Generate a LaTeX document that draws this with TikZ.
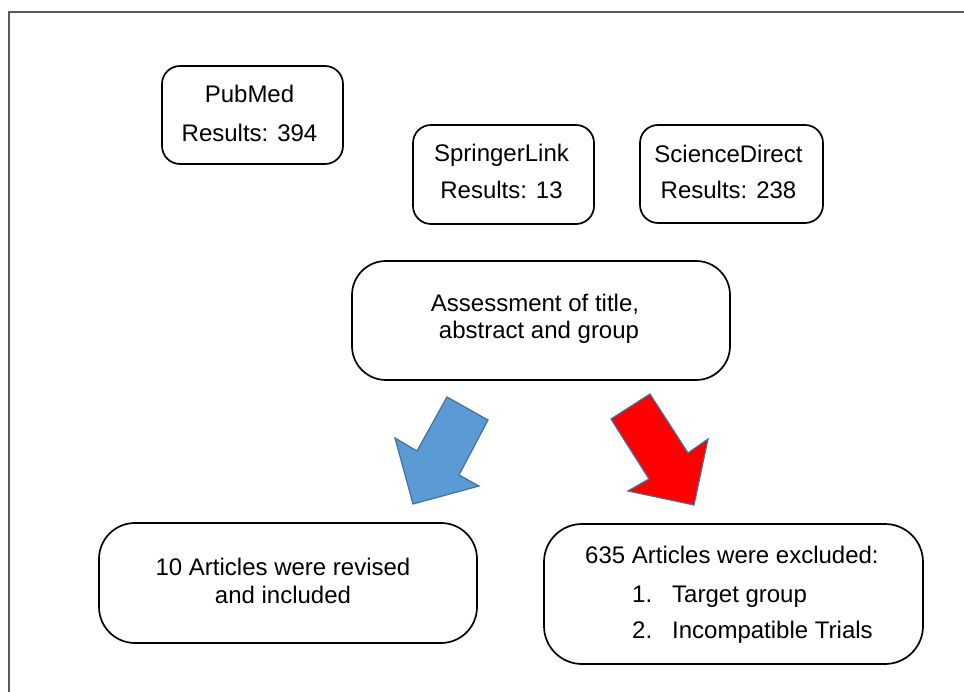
\documentclass[tikz,border=0pt]{standalone}
\usepackage{fontspec}
\setmainfont{Liberation Sans}
\definecolor{arrblue}{RGB}{91,155,213}
\definecolor{arrline}{RGB}{65,113,156}
\definecolor{framegray}{RGB}{90,90,90}
\begin{document}
\begin{tikzpicture}[x=1pt,y=-1pt,
  box/.style={draw=black, line width=1.7pt, fill=white, inner sep=0pt},
  lbl/.style={inner sep=0pt, font=\fontsize{24}{28}\selectfont},
  blockarrow/.style={draw=arrline, line width=1.2pt, line join=miter}]
\useasboundingbox (0,0) rectangle (964,692);
\draw[framegray, line width=1.5pt] (9,692) -- (9,12) -- (964,12);

% source boxes
\node[box, minimum width=181pt, minimum height=98pt, rounded corners=18pt] (pubmed) at (252.5,115) {};
\node[lbl, anchor=base] (pubmedA) at (249.5,103) {PubMed};
\node[lbl, anchor=base] (pubmedB) at (249.5,142) {Results: 394};

\node[box, minimum width=181pt, minimum height=99pt, rounded corners=18pt] (springer) at (503.5,174.5) {};
\node[lbl, anchor=base] (springerA) at (501.5,162) {SpringerLink};
\node[lbl, anchor=base] (springerB) at (501.5,199) {Results: 13};

\node[box, minimum width=183pt, minimum height=98pt, rounded corners=18pt] (science) at (731.5,174) {};
\node[lbl, anchor=base] (scienceA) at (728.5,163) {ScienceDirect};
\node[lbl, anchor=base] (scienceB) at (728.5,199) {Results: 238};

% assessment
\node[box, minimum width=378pt, minimum height=119pt, rounded corners=34pt] (assess) at (541,320.5) {};
\node[lbl, anchor=base] (assessA) at (535,312) {Assessment of title,};
\node[lbl, anchor=base] (assessB) at (539,339) {abstract and group};

% block arrows
\draw[blockarrow, fill=arrblue] (447,397) -- (488,420) -- (459,475) -- (479,486) -- (413,504) -- (395,438) -- (417,451) -- cycle;
\draw[blockarrow, fill=red] (611,419) -- (650,394) -- (688,453) -- (708,439) -- (694,505) -- (628,491) -- (649,479) -- cycle;

% result boxes
\node[box, minimum width=378pt, minimum height=120pt, rounded corners=36pt] (included) at (288,583) {};
\node[lbl, anchor=base] (includedA) at (283,575) {10 Articles were revised};
\node[lbl, anchor=base] (includedB) at (283,603) {and included};

\node[box, minimum width=379pt, minimum height=140pt, rounded corners=38pt] (excluded) at (733.5,594) {};
\node[lbl, anchor=base west] (excludedA) at (585,563) {635 Articles were excluded:};
\node[lbl, anchor=base west] (excludedN1) at (632,602) {1.};
\node[lbl, anchor=base west] (excludedT1) at (672,602) {Target group};
\node[lbl, anchor=base west] (excludedN2) at (632,638) {2.};
\node[lbl, anchor=base west] (excludedT2) at (672,638) {Incompatible Trials};
\end{tikzpicture}
\end{document}
